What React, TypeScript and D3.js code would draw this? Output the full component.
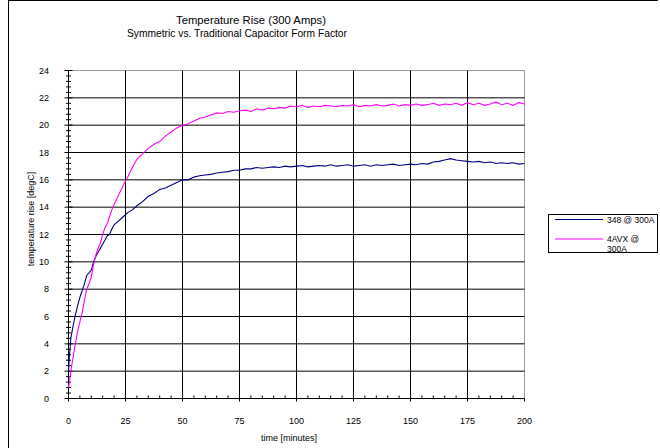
import React from 'react'
import * as d3 from 'd3'

// time [minutes], shared by both series
const times = [
  0, 0.5, 1, 2, 3, 4, 5, 6, 7, 8, 9, 10, 11, 12, 13, 14, 15, 16, 17, 18, 19, 20,
  22, 24, 26, 28, 30, 32.5, 35, 37.5, 40, 42.5, 45, 47.5, 50, 52.5, 55, 57.5,
  60, 62.5, 65, 67.5, 70, 72.5, 75, 77.5, 80, 82.5, 85, 87.5, 90, 92.5, 95, 97.5,
  100, 102.5, 105, 107.5, 110, 112.5, 115, 117.5, 120, 122.5, 125, 127.5, 130,
  132.5, 135, 137.5, 140, 142.5, 145, 147.5, 150, 152.5, 155, 157.5, 160, 162.5,
  165, 167.5, 170, 172.5, 175, 177.5, 180, 182.5, 185, 187.5, 190, 192.5, 195,
  197.5, 200,
]

const s348 = [
  2.0, 3.3, 4.4, 5.3, 6.1, 6.8, 7.4, 7.9, 8.4, 9.0, 9.2, 9.4, 10.0, 10.4, 10.7,
  11.0, 11.3, 11.6, 11.9, 12.0, 12.4, 12.7,
  13.0, 13.3, 13.6, 13.8, 14.1, 14.4, 14.8, 15.0, 15.3, 15.4, 15.6, 15.8, 16.0,
  16.0, 16.2, 16.3, 16.35, 16.4, 16.5, 16.55, 16.6, 16.7, 16.7, 16.8, 16.8, 16.9,
  16.85, 16.9, 16.95, 16.9, 17.0, 16.95, 17.0, 17.05, 16.95, 17.0, 17.05, 17.0,
  17.1, 17.0, 17.05, 17.1, 17.0, 17.05, 17.1, 17.0, 17.1, 17.05, 17.1, 17.15,
  17.05, 17.1, 17.15, 17.1, 17.2, 17.15, 17.3, 17.35, 17.45, 17.55, 17.45, 17.4,
  17.35, 17.3, 17.35, 17.25, 17.3, 17.2, 17.25, 17.2, 17.25, 17.15, 17.2,
]

const s4avx = [
  0.8, 1.3, 2.0, 3.0, 4.0, 4.9, 5.6, 6.3, 7.2, 8.0, 8.4, 8.9, 9.8, 10.5, 11.0,
  11.4, 12.0, 12.5, 12.8, 13.3, 13.8, 14.2,
  14.9, 15.6, 16.2, 16.9, 17.5, 17.9, 18.3, 18.6, 18.8, 19.2, 19.5, 19.8, 20.0,
  20.1, 20.3, 20.5, 20.6, 20.75, 20.9, 20.85, 21.0, 20.95, 21.05, 21.1, 21.0,
  21.2, 21.1, 21.25, 21.2, 21.3, 21.25, 21.4, 21.35, 21.45, 21.3, 21.4, 21.35,
  21.45, 21.4, 21.35, 21.45, 21.4, 21.5, 21.35, 21.45, 21.4, 21.5, 21.4, 21.45,
  21.55, 21.4, 21.5, 21.45, 21.55, 21.45, 21.5, 21.6, 21.45, 21.55, 21.5, 21.6,
  21.45, 21.65, 21.5, 21.6, 21.45, 21.55, 21.7, 21.5, 21.6, 21.45, 21.65, 21.55,
]

const series = [
  { name: ['348 @ 300A'], values: s348, color: '#000080' },
  { name: ['4AVX @', '300A'], values: s4avx, color: '#ff00ff' },
]

const xTicks = [0, 25, 50, 75, 100, 125, 150, 175, 200]
const yTicks = [0, 2, 4, 6, 8, 10, 12, 14, 16, 18, 20, 22, 24]

const font = 'Liberation Sans, Arial, sans-serif'

export default function App() {
  const width = 660
  const height = 448
  const x = d3.scaleLinear().domain([0, 200]).range([68.5, 524.5])
  const y = d3.scaleLinear().domain([0, 24]).range([398.5, 70.5])

  const line = d3.line<number>()
    .x((_, i) => x(times[i]))
    .y((d) => y(d))

  const xMinor = d3.range(0, 201, 5).filter((t) => t % 25 !== 0)
  const yMinor = d3.range(0, 24.01, 0.4).filter((v) => Math.abs(v / 2 - Math.round(v / 2)) > 0.01)

  return (
    <svg width={width} height={height} style={{ position: 'absolute', left: 0, top: 0, background: '#fff' }}>
      <line x1={8.5} y1={0} x2={8.5} y2={height} stroke="#000" />
      <line x1={8} y1={0.5} x2={658} y2={0.5} stroke="#000" />

      <g fontFamily={font} fontSize={11} textAnchor="middle" fill="#000">
        <text x={251} y={24} textLength={150} lengthAdjust="spacingAndGlyphs">Temperature Rise (300 Amps)</text>
        <text x={237} y={37} textLength={220} lengthAdjust="spacingAndGlyphs">Symmetric vs. Traditional Capacitor Form Factor</text>
      </g>

      {/* plot frame */}
      <line x1={x(0)} x2={x(200)} y1={y(24)} y2={y(24)} stroke="#999" />
      <line x1={x(200)} x2={x(200)} y1={y(24)} y2={y(0)} stroke="#999" />

      {yTicks.filter((v) => v > 0 && v < 24).map((v) => (
        <line key={'gy' + v} x1={x(0)} x2={x(200)} y1={y(v)} y2={y(v)} stroke="#000" />
      ))}
      {xTicks.filter((t) => t > 0 && t < 200).map((t) => (
        <line key={'gx' + t} x1={x(t)} x2={x(t)} y1={y(24)} y2={y(0)} stroke="#000" />
      ))}

      {/* axes */}
      <line x1={x(0)} x2={x(0)} y1={y(24)} y2={y(0)} stroke="#000" />
      <line x1={x(0)} x2={x(200)} y1={y(0)} y2={y(0)} stroke="#000" />
      {yTicks.map((v) => (
        <line key={'ty' + v} x1={x(0) - 4} x2={x(0) + 4} y1={y(v)} y2={y(v)} stroke="#000" />
      ))}
      {yMinor.map((v) => (
        <line key={'my' + v} x1={x(0) - 2.5} x2={x(0) + 2.5} y1={y(v)} y2={y(v)} stroke="#000" />
      ))}
      {xTicks.map((t) => (
        <line key={'tx' + t} x1={x(t)} x2={x(t)} y1={y(0)} y2={y(0) + 3} stroke="#000" />
      ))}
      {xMinor.map((t) => (
        <line key={'mx' + t} x1={x(t)} x2={x(t)} y1={y(0) - 3} y2={y(0)} stroke="#000" />
      ))}

      <g fontFamily={font} fontSize={9} fill="#000">
        {yTicks.map((v) => (
          <text key={'ly' + v} x={49} y={y(v) + 3} textAnchor="end">{v}</text>
        ))}
        {xTicks.map((t) => (
          <text key={'lx' + t} x={x(t)} y={424} textAnchor="middle">{t}</text>
        ))}
        <text x={289} y={441} textAnchor="middle">time [minutes]</text>
        <text transform="translate(34,219) rotate(-90)" textAnchor="middle">temperature rise [degC]</text>
      </g>

      {series.map((s) => (
        <path key={s.name[0]} d={line(s.values) || ''} fill="none" stroke={s.color} strokeWidth={1.1} />
      ))}

      {/* legend */}
      <rect x={548.5} y={214.5} width={109} height={38} fill="#fff" stroke="#000" />
      {series.map((s, i) => {
        const ly = 219.5 + i * 19.5
        return (
          <g key={'lg' + i}>
            <line x1={555} x2={603} y1={ly} y2={ly} stroke={s.color} strokeWidth={1.2} />
            {s.name.map((n, j) => (
              <text key={n} x={607} y={ly + 3 + j * 10} fontFamily={font} fontSize={8.5} fill="#000">{n}</text>
            ))}
          </g>
        )
      })}
    </svg>
  )
}
